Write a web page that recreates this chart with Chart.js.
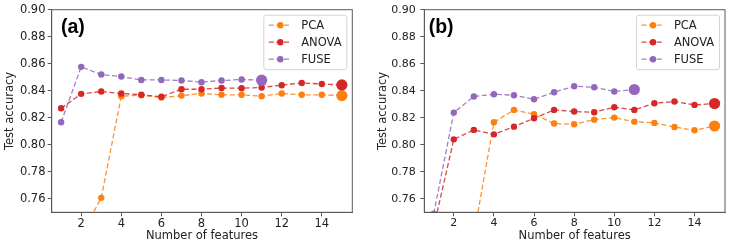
<!DOCTYPE html>
<html lang="en">
<head>
    <meta charset="UTF-8">
    <title>Test accuracy vs number of features</title>
    <script src="https://cdn.jsdelivr.net/npm/chart.js"></script>
    <style>
        html, body { margin: 0; padding: 0; background: #fff; }
        #wrap { position: relative; width: 733px; height: 248px; }
        canvas { position: absolute; top: 0; }
    </style>
</head>
<body>
<div id="wrap">
    <canvas id="chartA" width="366" height="248" style="left:0"></canvas>
    <canvas id="chartB" width="367" height="248" style="left:366px"></canvas>
</div>

<script>
    // number of features on the x axis
    const features = [1, 2, 3, 4, 5, 6, 7, 8, 9, 10, 11, 12, 13, 14, 15];
    const xTicks = [2, 4, 6, 8, 10, 12, 14];
    const yTicks = [0.76, 0.78, 0.80, 0.82, 0.84, 0.86, 0.88, 0.90];

    // panel (a)
    const pcaA = [0.700, 0.733, 0.7607, 0.836, 0.8367, 0.835, 0.8364, 0.838, 0.837, 0.837, 0.836, 0.838, 0.837, 0.837, 0.8364];
    const anovaA = [0.827, 0.8377, 0.8394, 0.838, 0.837, 0.8355, 0.8411, 0.8411, 0.842, 0.8419, 0.8424, 0.8441, 0.8458, 0.845, 0.8443];
    const fuseA = [0.8167, 0.8577, 0.852, 0.8505, 0.848, 0.848, 0.8476, 0.8463, 0.8476, 0.8483, 0.8478];

    // panel (b)
    const pcaB = [0.700, 0.715, 0.733, 0.8167, 0.8258, 0.8226, 0.8157, 0.8152, 0.8186, 0.8201, 0.8171, 0.8162, 0.8132, 0.8107, 0.8139];
    const anovaB = [0.739, 0.804, 0.811, 0.8077, 0.8134, 0.8196, 0.8258, 0.8246, 0.8241, 0.8278, 0.8258, 0.8307, 0.832, 0.8295, 0.8305];
    const fuseB = [0.749, 0.8238, 0.8357, 0.8374, 0.8367, 0.8337, 0.8389, 0.8433, 0.8426, 0.8394, 0.8409];

    const seriesNames = ['PCA', 'ANOVA', 'FUSE'];
    const colors = ['#ff7f0e', '#d62728', '#9467bd'];
    const lineColors = ['rgba(255,127,14,0.85)', 'rgba(214,39,40,0.85)', 'rgba(148,103,189,0.85)'];
    const dash = [5, 2.6];
    const FONT = '"DejaVu Sans", sans-serif';
    const frameColor = '#5a5a5a';

    // box around the plot area + panel label + matplotlib style legend
    const decorations = {
        id: 'decorations',
        afterDatasetsDraw(chart, args, opts) {
            const a = chart.chartArea;
            const ctx = chart.ctx;
            ctx.save();
            ctx.strokeStyle = frameColor;
            ctx.lineWidth = 1;
            ctx.strokeRect(a.left, a.top, a.right - a.left, a.bottom - a.top);

            // panel label
            ctx.fillStyle = '#000';
            ctx.font = 'bold 19.5px "Liberation Sans", Arial, sans-serif';
            ctx.textBaseline = 'alphabetic';
            ctx.fillText(opts.label, a.left + opts.labelOffset, a.top + 23.5);

            // legend
            const w = 83, h = 54.5;
            const bx = a.right - 5.5 - w, by = a.top + 5.5;
            ctx.beginPath();
            ctx.roundRect(bx, by, w, h, 2.5);
            ctx.fillStyle = 'rgba(255,255,255,0.85)';
            ctx.fill();
            ctx.strokeStyle = '#d4d4d4';
            ctx.stroke();
            chart.data.datasets.forEach((ds, i) => {
                const y = by + 10 + i * 17;
                ctx.strokeStyle = lineColors[i];
                ctx.lineWidth = 1.3;
                ctx.setLineDash(dash);
                ctx.beginPath();
                ctx.moveTo(bx + 5, y);
                ctx.lineTo(bx + 27, y);
                ctx.stroke();
                ctx.setLineDash([]);
                ctx.fillStyle = colors[i];
                ctx.beginPath();
                ctx.arc(bx + 16.5, y, 3.2, 0, Math.PI * 2);
                ctx.fill();
                ctx.fillStyle = '#222';
                ctx.font = '11.5px ' + FONT;
                ctx.textBaseline = 'middle';
                ctx.fillText(ds.label, bx + 37.4, y + 0.5);
            });
            ctx.restore();
        }
    };

    function makeDataset(i, values) {
        const last = values.length - 1;
        return {
            label: seriesNames[i],
            data: values.map((v, k) => ({ x: features[k], y: v })),
            borderColor: lineColors[i],
            backgroundColor: colors[i],
            pointBackgroundColor: colors[i],
            borderWidth: 1.3,
            borderDash: dash,
            pointBorderWidth: 0,
            pointRadius: ctx => (ctx.dataIndex === last ? 5.6 : 3.2),
            pointHoverRadius: 0,
            tension: 0,
            order: 3 - i
        };
    }

    function makeChart(id, pca, anova, fuse, cfg) {
        const ctx = document.getElementById(id).getContext('2d');
        return new Chart(ctx, {
            type: 'line',
            data: {
                datasets: [makeDataset(0, pca), makeDataset(1, anova), makeDataset(2, fuse)]
            },
            options: {
                responsive: false,
                animation: false,
                events: [],
                layout: { padding: { left: 0, right: cfg.padRight, top: 9.7, bottom: 0 } },
                plugins: {
                    legend: { display: false },
                    tooltip: { enabled: false },
                    decorations: { label: cfg.label, labelOffset: cfg.labelOffset }
                },
                scales: {
                    x: {
                        type: 'linear',
                        min: 0.53,
                        max: 15.52,
                        afterFit: s => { s.height = 35.7; s.paddingLeft = 0; s.paddingRight = 0; },
                        afterBuildTicks: s => { s.ticks = xTicks.map(v => ({ value: v })); },
                        grid: { drawOnChartArea: false, tickLength: 4, color: frameColor },
                        border: { color: frameColor },
                        ticks: { color: '#222', font: { family: FONT, size: cfg.tickSize }, padding: 0.5, maxRotation: 0 },
                        title: { display: true, text: 'Number of features', color: '#222', font: { family: FONT, size: 11.5 }, padding: { top: 0, bottom: 5 } }
                    },
                    y: {
                        min: 0.75,
                        max: 0.90,
                        afterFit: s => { s.width = cfg.yWidth; s.paddingTop = 0; s.paddingBottom = 0; },
                        afterBuildTicks: s => { s.ticks = yTicks.map(v => ({ value: v })); },
                        grid: { drawOnChartArea: false, tickLength: 4, color: frameColor },
                        border: { color: frameColor },
                        ticks: { color: '#222', font: { family: FONT, size: cfg.tickSize }, padding: cfg.yPad, callback: v => v.toFixed(2) },
                        title: { display: true, text: 'Test accuracy', color: '#222', font: { family: FONT, size: 11.5 }, padding: { top: cfg.yTitlePad, bottom: 0 } }
                    }
                }
            },
            plugins: [decorations]
        });
    }

    makeChart('chartA', pcaA, anovaA, fuseA, { label: '(a)', labelOffset: 9.3, padRight: 13.7, yWidth: 51.7, tickSize: 11.5, yPad: 2.2, yTitlePad: 3.1 });
    makeChart('chartB', pcaB, anovaB, fuseB, { label: '(b)', labelOffset: 4.4, padRight: 8, yWidth: 58.3, tickSize: 11, yPad: 4.5, yTitlePad: 9.8 });
</script>
</body>
</html>
